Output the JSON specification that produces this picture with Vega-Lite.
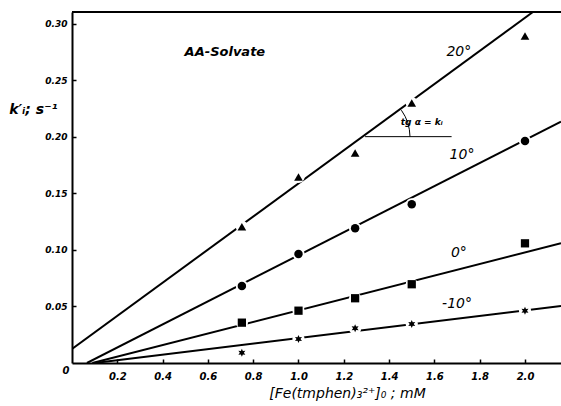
{
  "$schema": "https://vega.github.io/schema/vega-lite/v6.json",
  "width": 489,
  "height": 351,
  "autosize": {"type": "none"},
  "padding": {"left": 72, "top": 12, "right": 0, "bottom": 43},
  "background": "white",
  "config": {"view": {"stroke": null}, "font": "DejaVu Sans"},
  "datasets": {
    "points": [
      {"series": "20", "x": 0.75, "y": 0.1206},
      {"series": "20", "x": 1.0, "y": 0.1646},
      {"series": "20", "x": 1.25, "y": 0.1858},
      {"series": "20", "x": 1.5, "y": 0.230},
      {"series": "20", "x": 2.0, "y": 0.2894},
      {"series": "10", "x": 0.75, "y": 0.0681},
      {"series": "10", "x": 1.0, "y": 0.0965},
      {"series": "10", "x": 1.25, "y": 0.1192},
      {"series": "10", "x": 1.5, "y": 0.1404},
      {"series": "10", "x": 2.0, "y": 0.1965},
      {"series": "0", "x": 0.75, "y": 0.0357},
      {"series": "0", "x": 1.0, "y": 0.0463},
      {"series": "0", "x": 1.25, "y": 0.0573},
      {"series": "0", "x": 1.5, "y": 0.0697},
      {"series": "0", "x": 2.0, "y": 0.1059},
      {"series": "-10", "x": 0.75, "y": 0.0091},
      {"series": "-10", "x": 1.0, "y": 0.0212},
      {"series": "-10", "x": 1.25, "y": 0.0307},
      {"series": "-10", "x": 1.5, "y": 0.0345},
      {"series": "-10", "x": 2.0, "y": 0.0463}
    ],
    "fits": [
      {"series": "20", "x": 0.0, "y": 0.0124},
      {"series": "20", "x": 2.035, "y": 0.3106},
      {"series": "10", "x": 0.066, "y": 0.0},
      {"series": "10", "x": 2.159, "y": 0.2136},
      {"series": "0", "x": 0.09, "y": 0.0},
      {"series": "0", "x": 2.159, "y": 0.106},
      {"series": "-10", "x": 0.1, "y": 0.0},
      {"series": "-10", "x": 2.159, "y": 0.0504}
    ],
    "arc": [
      {"x": 1.4543, "y": 0.2237},
      {"x": 1.4706, "y": 0.2183},
      {"x": 1.4826, "y": 0.2126},
      {"x": 1.4896, "y": 0.2065},
      {"x": 1.4923, "y": 0.2003}
    ],
    "labels": [
      {"text": "20°", "x": 1.708, "y": 0.2752},
      {"text": "10°", "x": 1.722, "y": 0.184},
      {"text": "0°", "x": 1.708, "y": 0.0974},
      {"text": "-10°", "x": 1.70, "y": 0.0522}
    ]
  },
  "layer": [
    {
      "data": {"name": "fits"},
      "mark": {"type": "line", "color": "black", "strokeWidth": 2, "clip": true},
      "encoding": {
        "x": {"field": "x", "type": "quantitative",
          "scale": {"domain": [0, 2.159], "nice": false, "zero": false},
          "axis": {
            "values": [0.2, 0.4, 0.6, 0.8, 1.0, 1.2, 1.4, 1.6, 1.8, 2.0],
            "format": ".1f", "grid": false,
            "domainColor": "black", "domainWidth": 2,
            "tickColor": "black", "tickWidth": 1.5, "tickSize": -4,
            "labelFont": "DejaVu Sans", "labelFontStyle": "italic", "labelFontWeight": "bold",
            "labelFontSize": 10, "labelColor": "black", "labelPadding": 12,
            "title": "[Fe(tmphen)₃²⁺]₀ ;  mM",
            "titleFont": "DejaVu Sans", "titleFontStyle": "italic", "titleFontWeight": "normal",
            "titleFontSize": 14, "titleColor": "black",
            "titleX": 275, "titleY": 30, "titleBaseline": "middle", "titleAlign": "center"
          }
        },
        "y": {"field": "y", "type": "quantitative",
          "scale": {"domain": [0, 0.3106], "nice": false},
          "axis": {
            "values": [0.05, 0.10, 0.15, 0.20, 0.25, 0.30],
            "format": ".2f", "grid": false,
            "domainColor": "black", "domainWidth": 2,
            "tickColor": "black", "tickWidth": 1.5, "tickSize": -4,
            "labelFont": "DejaVu Sans", "labelFontStyle": "italic", "labelFontWeight": "bold",
            "labelFontSize": 9, "labelColor": "black", "labelPadding": 9,
            "title": "k′ᵢ;  s⁻¹",
            "titleFont": "DejaVu Sans", "titleFontStyle": "italic", "titleFontWeight": "bold",
            "titleFontSize": 14, "titleColor": "black", "titleAngle": 0,
            "titleX": -39, "titleY": 97, "titleBaseline": "middle", "titleAlign": "center"
          }
        },
        "detail": {"field": "series"}
      }
    },
    {
      "data": {"values": [{"x": 1.294, "x2": 1.676, "y": 0.2003}]},
      "mark": {"type": "rule", "color": "black", "strokeWidth": 1},
      "encoding": {
        "x": {"field": "x", "type": "quantitative"},
        "x2": {"field": "x2"},
        "y": {"field": "y", "type": "quantitative"}
      }
    },
    {
      "data": {"name": "arc"},
      "mark": {"type": "line", "color": "black", "strokeWidth": 1},
      "encoding": {
        "x": {"field": "x", "type": "quantitative"},
        "y": {"field": "y", "type": "quantitative"}
      }
    },
    {
      "data": {"name": "points"},
      "mark": {"type": "point", "filled": true, "fill": "white", "opacity": 1, "size": 150, "shape": "circle"},
      "encoding": {
        "x": {"field": "x", "type": "quantitative"},
        "y": {"field": "y", "type": "quantitative"}
      }
    },
    {
      "data": {"name": "points"},
      "mark": {"type": "point", "filled": true, "fill": "black", "opacity": 1},
      "encoding": {
        "x": {"field": "x", "type": "quantitative"},
        "y": {"field": "y", "type": "quantitative"},
        "shape": {"field": "series", "type": "nominal", "legend": null,
          "scale": {"domain": ["20", "10", "0", "-10"],
            "range": ["triangle-up", "circle", "square", "M0,-1L0.25,-0.433L0.866,-0.5L0.5,0L0.866,0.5L0.25,0.433L0,1L-0.25,0.433L-0.866,0.5L-0.5,0L-0.866,-0.5L-0.25,-0.433Z"]}},
        "size": {"field": "series", "type": "nominal", "legend": null,
          "scale": {"domain": ["20", "10", "0", "-10"], "range": [75, 65, 55, 70]}}
      }
    },
    {
      "data": {"name": "labels"},
      "mark": {"type": "text", "font": "DejaVu Sans", "fontStyle": "italic", "fontSize": 14, "color": "black", "align": "center", "baseline": "middle"},
      "encoding": {
        "x": {"field": "x", "type": "quantitative"},
        "y": {"field": "y", "type": "quantitative"},
        "text": {"field": "text"}
      }
    },
    {
      "data": {"values": [{"text": "AA-Solvate", "x": 0.675, "y": 0.2752}]},
      "mark": {"type": "text", "font": "DejaVu Sans", "fontStyle": "italic", "fontWeight": "bold", "fontSize": 13, "color": "black", "align": "center", "baseline": "middle"},
      "encoding": {
        "x": {"field": "x", "type": "quantitative"},
        "y": {"field": "y", "type": "quantitative"},
        "text": {"field": "text"}
      }
    },
    {
      "data": {"values": [{"text": "tg α = kᵢ", "x": 1.544, "y": 0.213}]},
      "mark": {"type": "text", "font": "DejaVu Sans", "fontStyle": "italic", "fontWeight": "bold", "fontSize": 9, "color": "black", "align": "center", "baseline": "middle"},
      "encoding": {
        "x": {"field": "x", "type": "quantitative"},
        "y": {"field": "y", "type": "quantitative"},
        "text": {"field": "text"}
      }
    },
    {
      "data": {"values": [{"text": "0", "x": 0, "y": 0}]},
      "mark": {"type": "text", "font": "DejaVu Sans", "fontStyle": "italic", "fontWeight": "bold", "fontSize": 10, "color": "black", "align": "center", "baseline": "middle", "dx": -6, "dy": 8},
      "encoding": {
        "x": {"field": "x", "type": "quantitative"},
        "y": {"field": "y", "type": "quantitative"},
        "text": {"field": "text"}
      }
    },
    {
      "data": {"values": [{"y": 0.3106}]},
      "mark": {"type": "rule", "color": "black", "strokeWidth": 2},
      "encoding": {
        "y": {"field": "y", "type": "quantitative"}
      }
    }
  ]
}
